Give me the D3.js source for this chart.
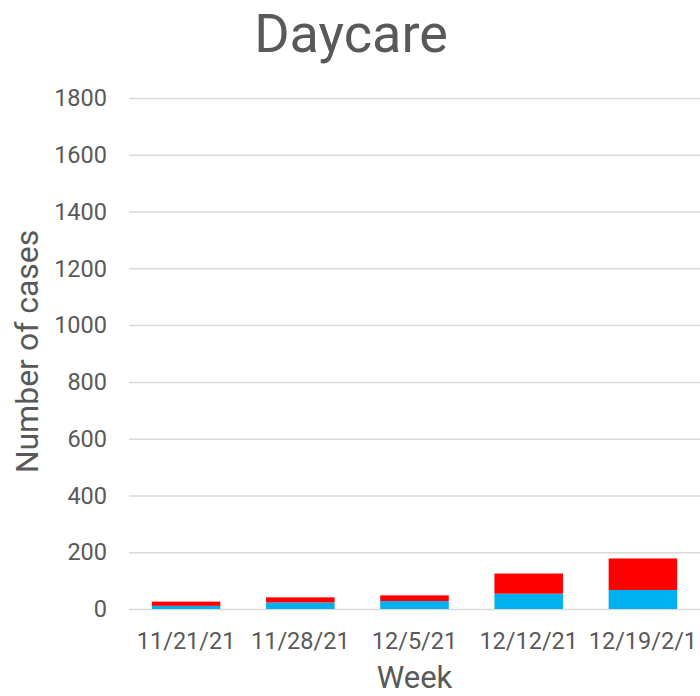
<!DOCTYPE html>
<html>
<head>
<meta charset="utf-8">
<style>
  body { margin: 0; background: #fff; }
  svg text { font-family: Roboto, "Open Sans", sans-serif; fill: #595959; }
  .grid line { stroke: #d9d9d9; stroke-width: 1.5; }
  .grid path { display: none; }
</style>
</head>
<body>
<svg width="700" height="696"></svg>
<script src="https://cdnjs.cloudflare.com/ajax/libs/d3/7.8.5/d3.min.js"></script>
<script>
// data
var weeks = ["11/21/21", "11/28/21", "12/5/21", "12/12/21", "12/19/2/1"];
var blueValues = [11, 23, 28, 54, 67];
var redValues = [15, 18, 20, 71, 111];
var yTicks = [0, 200, 400, 600, 800, 1000, 1200, 1400, 1600, 1800];

var svg = d3.select("svg"),
    margin = {top: 98, right: 0, bottom: 87, left: 129},
    width = +svg.attr("width") - margin.left - margin.right,
    height = +svg.attr("height") - margin.top - margin.bottom;

var x = d3.scaleBand().domain(weeks).range([0, width]).paddingInner(0.4).paddingOuter(0.2),
    y = d3.scaleLinear().domain([0, 1800]).range([height, 0]);

var g = svg.append("g")
    .attr("transform", "translate(" + margin.left + "," + margin.top + ")");

// gridlines
g.append("g")
    .attr("class", "grid")
    .call(d3.axisLeft(y).tickValues(yTicks).tickSize(-width).tickFormat(""));

// y tick labels
g.selectAll(".ylab")
  .data(yTicks)
  .enter().append("text")
    .attr("x", -22)
    .attr("y", function(d) { return y(d); })
    .attr("dy", "0.35em")
    .attr("text-anchor", "end")
    .style("font-size", "23.5px")
    .text(function(d) { return d; });

// stacked bars
var rows = weeks.map(function(w, i) { return {week: w, blue: blueValues[i], red: redValues[i]}; });
var stack = d3.stack().keys(["blue", "red"])(rows);
var colors = {blue: "#00b0f0", red: "#ff0000"};

g.selectAll(".series")
  .data(stack)
  .enter().append("g")
    .attr("fill", function(s) { return colors[s.key]; })
  .selectAll("rect")
  .data(function(s) { return s; })
  .enter().append("rect")
    .attr("x", function(d) { return x(d.data.week); })
    .attr("y", function(d) { return y(d[1]); })
    .attr("width", x.bandwidth())
    .attr("height", function(d) { return y(d[0]) - y(d[1]); });

// x labels
g.selectAll(".xlab")
  .data(weeks)
  .enter().append("text")
    .attr("x", function(d) { return x(d) + x.bandwidth() / 2; })
    .attr("y", height + 40)
    .attr("text-anchor", "middle")
    .style("font-size", "23.5px")
    .text(function(d) { return d; });

// titles
svg.append("text")
    .attr("x", 351)
    .attr("y", 52)
    .attr("text-anchor", "middle")
    .style("font-size", "54px")
    .text("Daycare");

svg.append("text")
    .attr("x", margin.left + width / 2)
    .attr("y", 688)
    .attr("text-anchor", "middle")
    .style("font-size", "31px")
    .text("Week");

svg.append("text")
    .attr("transform", "translate(38," + (margin.top + height / 2 - 2) + ") rotate(-90)")
    .attr("text-anchor", "middle")
    .style("font-size", "32px")
    .text("Number of cases");
</script>
</body>
</html>
